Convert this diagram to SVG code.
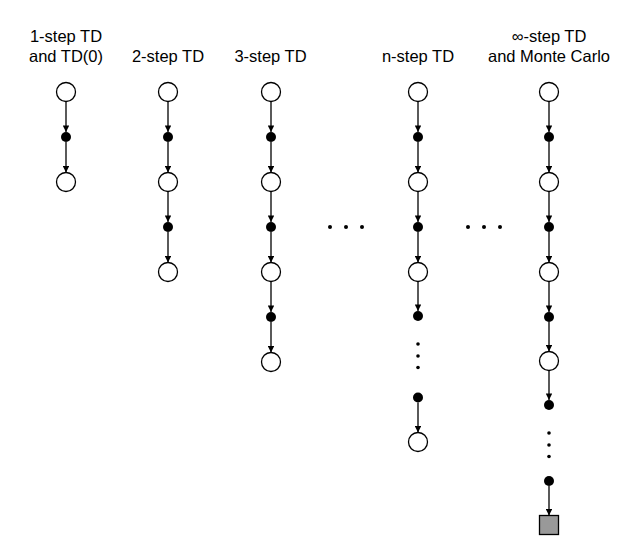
<svg xmlns="http://www.w3.org/2000/svg" width="623" height="546" viewBox="0 0 623 546">
<style>
text{font-family:"Liberation Sans",Arial,sans-serif;font-size:16.5px;fill:#000;text-anchor:middle}
.s{fill:#fff;stroke:#000;stroke-width:1.3}
.a{fill:#000}
.e{stroke:#000;stroke-width:1.3;fill:none;marker-end:url(#ah)}
.d{fill:#000}
.t{fill:#999;stroke:#000;stroke-width:1.3}
</style>
<defs>
<marker id="ah" viewBox="0 0 10 10" refX="10" refY="5" markerWidth="7" markerHeight="6.5" markerUnits="userSpaceOnUse" orient="auto">
<path d="M0,0 L10,5 L0,10 z" fill="#000"/>
</marker>
</defs>
<rect width="623" height="546" fill="#fff"/>
<g id="labels">
<text x="66" y="42">1-step TD</text>
<text x="66" y="62">and TD(0)</text>
<text x="168" y="62">2-step TD</text>
<text x="270.5" y="62">3-step TD</text>
<text x="418" y="62">n-step TD</text>
<text x="549" y="42">∞-step TD</text>
<text x="549" y="62">and Monte Carlo</text>
</g>
<g id="connectors">
<line class="e" x1="66" y1="101.5" x2="66" y2="132"/>
<line class="e" x1="66" y1="142" x2="66" y2="172.5"/>
<line class="e" x1="168" y1="101.5" x2="168" y2="132"/>
<line class="e" x1="168" y1="142" x2="168" y2="172.5"/>
<line class="e" x1="168" y1="191.5" x2="168" y2="222"/>
<line class="e" x1="168" y1="232" x2="168" y2="262.5"/>
<line class="e" x1="271" y1="101.5" x2="271" y2="132"/>
<line class="e" x1="271" y1="142" x2="271" y2="172.5"/>
<line class="e" x1="271" y1="191.5" x2="271" y2="222"/>
<line class="e" x1="271" y1="232" x2="271" y2="262.5"/>
<line class="e" x1="271" y1="281.5" x2="271" y2="312"/>
<line class="e" x1="271" y1="322" x2="271" y2="352.5"/>
<line class="e" x1="418" y1="101.5" x2="418" y2="132"/>
<line class="e" x1="418" y1="142" x2="418" y2="172.5"/>
<line class="e" x1="418" y1="191.5" x2="418" y2="222"/>
<line class="e" x1="418" y1="232" x2="418" y2="262.5"/>
<line class="e" x1="418" y1="281.5" x2="418" y2="311"/>
<line class="e" x1="418" y1="402.5" x2="418" y2="432.5"/>
<line class="e" x1="549" y1="101.5" x2="549" y2="132"/>
<line class="e" x1="549" y1="142" x2="549" y2="172.5"/>
<line class="e" x1="549" y1="191.5" x2="549" y2="222"/>
<line class="e" x1="549" y1="232" x2="549" y2="262.5"/>
<line class="e" x1="549" y1="281.5" x2="549" y2="312"/>
<line class="e" x1="549" y1="322" x2="549" y2="351.5"/>
<line class="e" x1="549" y1="370.5" x2="549" y2="400"/>
<line class="e" x1="549" y1="486" x2="549" y2="515.5"/>
</g>
<g id="col1">
<circle class="s" cx="66" cy="92" r="9.5"/>
<circle class="a" cx="66" cy="137" r="5"/>
<circle class="s" cx="66" cy="182" r="9.5"/>
</g>
<g id="col2">
<circle class="s" cx="168" cy="92" r="9.5"/>
<circle class="a" cx="168" cy="137" r="5"/>
<circle class="s" cx="168" cy="182" r="9.5"/>
<circle class="a" cx="168" cy="227" r="5"/>
<circle class="s" cx="168" cy="272" r="9.5"/>
</g>
<g id="col3">
<circle class="s" cx="271" cy="92" r="9.5"/>
<circle class="a" cx="271" cy="137" r="5"/>
<circle class="s" cx="271" cy="182" r="9.5"/>
<circle class="a" cx="271" cy="227" r="5"/>
<circle class="s" cx="271" cy="272" r="9.5"/>
<circle class="a" cx="271" cy="317" r="5"/>
<circle class="s" cx="271" cy="362" r="9.5"/>
</g>
<g id="hdots1">
<circle class="d" cx="330" cy="227" r="2"/>
<circle class="d" cx="346" cy="227" r="2"/>
<circle class="d" cx="362" cy="227" r="2"/>
</g>
<g id="coln">
<circle class="s" cx="418" cy="92" r="9.5"/>
<circle class="a" cx="418" cy="137" r="5"/>
<circle class="s" cx="418" cy="182" r="9.5"/>
<circle class="a" cx="418" cy="227" r="5"/>
<circle class="s" cx="418" cy="272" r="9.5"/>
<circle class="a" cx="418" cy="316" r="5"/>
<circle class="d" cx="418" cy="344" r="1.8"/>
<circle class="d" cx="418" cy="356" r="1.8"/>
<circle class="d" cx="418" cy="367.5" r="1.8"/>
<circle class="a" cx="418" cy="397.5" r="5"/>
<circle class="s" cx="418" cy="442" r="9.5"/>
</g>
<g id="hdots2">
<circle class="d" cx="468" cy="227" r="2"/>
<circle class="d" cx="484" cy="227" r="2"/>
<circle class="d" cx="500" cy="227" r="2"/>
</g>
<g id="colinf">
<circle class="s" cx="549" cy="92" r="9.5"/>
<circle class="a" cx="549" cy="137" r="5"/>
<circle class="s" cx="549" cy="182" r="9.5"/>
<circle class="a" cx="549" cy="227" r="5"/>
<circle class="s" cx="549" cy="272" r="9.5"/>
<circle class="a" cx="549" cy="317" r="5"/>
<circle class="s" cx="549" cy="361" r="9.5"/>
<circle class="a" cx="549" cy="405" r="5"/>
<circle class="d" cx="549" cy="433" r="1.8"/>
<circle class="d" cx="549" cy="445" r="1.8"/>
<circle class="d" cx="549" cy="456.5" r="1.8"/>
<circle class="a" cx="549" cy="481" r="5"/>
<rect class="t" x="539.5" y="515.5" width="19" height="19"/>
</g>
</svg>
